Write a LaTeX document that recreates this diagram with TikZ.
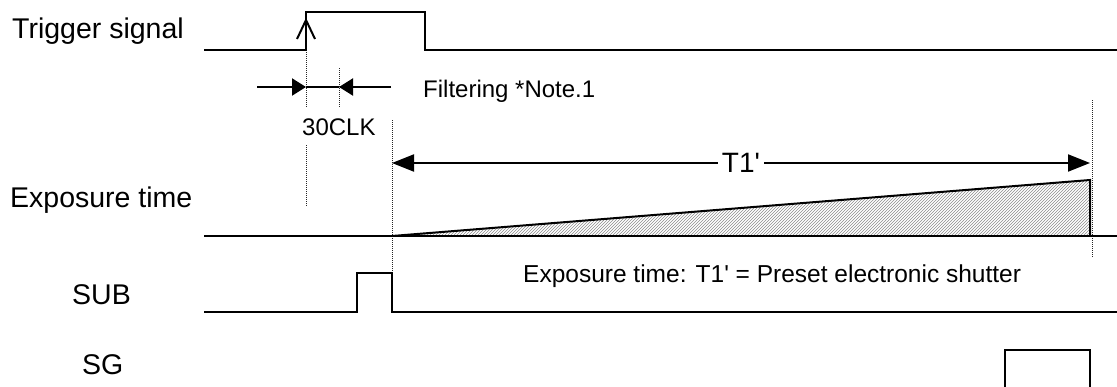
\documentclass[tikz,border=0pt]{standalone}
\usepackage{fontspec}
\setmainfont{Liberation Sans}
\usetikzlibrary{arrows.meta,patterns}
\begin{document}
\begin{tikzpicture}[x=1pt,y=-1pt,
  sig/.style={line width=2pt,line join=miter},
  guide/.style={line width=1pt,black!85,dash pattern=on 1pt off 1pt},
  lbl/.style={font=\fontsize{28.5}{30}\selectfont,anchor=base west,inner sep=0pt},
  small/.style={font=\fontsize{24}{26}\selectfont,anchor=base west,inner sep=0pt},
  dimarrow/.style={line width=2pt,-{Triangle[length=14pt,width=17pt]}},
  longarrow/.style={line width=2pt,{Triangle[length=22pt,width=17pt]}-{Triangle[length=22pt,width=17pt]}}]
\useasboundingbox (0,0) rectangle (1117,386);

% labels
\node[lbl] (lTrig) at (12,38) {Trigger signal};
\node[lbl] (lExp) at (10,207) {Exposure time};
\node[lbl] (lSub) at (72,304) {SUB};
\node[lbl] (lSg) at (82,374) {SG};

% guide lines (dotted)
\draw[guide] (306,50) -- (306,108);
\draw[guide] (306,145) -- (306,207);
\draw[guide] (339,68) -- (339,108);
\draw[guide] (392,120) -- (392,273);
\draw[guide] (1092,100) -- (1092,258);

% trigger signal
\draw[sig] (204,50) -- (306,50) -- (306,12) -- (425,12) -- (425,50) -- (1117,50);
\draw[line width=2pt] (297,39) -- (306,20) -- (315,39);

% filtering arrows
\coordinate (fL) at (257,87);
\coordinate (fA) at (306,87);
\coordinate (fB) at (339,87);
\coordinate (fR) at (391,87);
\draw[dimarrow] (fL) -- (fA);
\draw[dimarrow] (fR) -- (fB);
\draw[line width=2pt] (fA) -- (fB);
\node[small] (filt) at (423,97) {Filtering *Note.1};
\node[small] (clk) at (302,135) {30CLK};

% T1' arrow
\coordinate (tL) at (392,163);
\coordinate (tR) at (1090,163);
\draw[longarrow] (tL) -- node[midway,fill=white,inner xsep=4pt,inner ysep=2pt,font=\fontsize{28}{30}\selectfont] (t1) {T1\textquotesingle} (tR);

% exposure
\fill[pattern=north east lines,pattern color=black!45] (392,236) -- (1090,180) -- (1090,236) -- cycle;
\draw[line width=2pt,line join=miter] (392,236) -- (1090,180) -- (1090,236);
\draw[sig] (204,236) -- (1117,236);
\node[small,font=\fontsize{24.5}{26}\selectfont] (expnote) at (523,282) {Exposure time: T1\textquotesingle{} = Preset electronic shutter};

% SUB
\draw[sig] (204,312) -- (357,312) -- (357,273) -- (392,273) -- (392,312) -- (1117,312);

% SG
\draw[sig] (1005,390) -- (1005,350) -- (1090,350) -- (1090,390);
\end{tikzpicture}
\end{document}
